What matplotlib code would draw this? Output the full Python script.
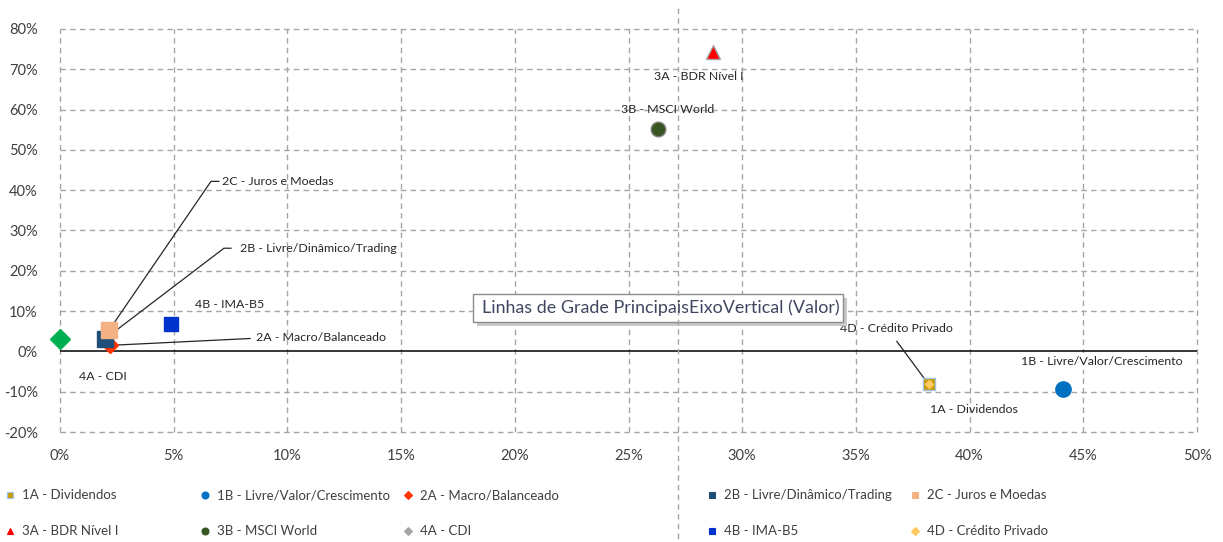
import matplotlib
matplotlib.use("Agg")
import matplotlib.pyplot as plt
from matplotlib.lines import Line2D
from matplotlib.patches import Rectangle
from matplotlib.ticker import FuncFormatter, MultipleLocator

plt.rcParams['font.family'] = ['Lato', 'DejaVu Sans']

# ---- data: risk (x) vs return (y), in percent ----
names = ["1A - Dividendos", "1B - Livre/Valor/Crescimento", "2A - Macro/Balanceado",
         "2B - Livre/Dinâmico/Trading", "2C - Juros e Moedas", "3A - BDR Nível I",
         "3B - MSCI World", "4A - CDI", "4B - IMA-B5", "4D - Crédito Privado"]
risk = [38.2, 44.1, 2.2, 2.0, 2.15, 28.7, 26.3, 0.0, 4.9, 38.2]
ret = [-8.2, -9.4, 1.5, 3.2, 5.2, 74.2, 55.1, 3.0, 6.7, -8.2]

x_ticks = [0, 5, 10, 15, 20, 25, 30, 35, 40, 45, 50]
y_ticks = [-20, -10, 0, 10, 20, 30, 40, 50, 60, 70, 80]

# ---- styles ----
markers = ["s", "o", "D", "s", "s", "^", "o", "D", "s", "D"]
sizes = [9, 11, 8, 11, 11, 10, 10.5, 10.5, 10, 4.5]
faces = ["#C99A06", "#0070C0", "#FF3300", "#1F4E79", "#F4B183",
         "#FF0000", "#375623", "#00B050", "#0033CC", "#FFC95E"]
edges = ["#9DC3E6", "#0070C0", "#FF3300", "#1F4E79", "#F4B183",
         "#A6A6A6", "#7F7F7F", "#00B050", "#0033CC", "#FFC95E"]
legend_faces = list(faces)
legend_faces[7] = "#A6A6A6"

# label placement (data coords), alignment, and optional leader elbow
label_pos = [(40.2, -14.4, "center"), (45.8, -2.5, "center"), (8.62, 3.5, "left"),
             (7.92, 25.6, "left"), (7.12, 42.2, "left"), (28.1, 68.2, "center"),
             (26.7, 60.0, "center"), (0.84, -6.2, "left"), (5.94, 11.7, "left"),
             (36.8, 5.7, "center")]
leaders = {2: [(8.36, 3.2)],
           3: [(7.21, 25.6), (7.52, 25.6)],
           4: [(6.64, 42.2), (6.99, 42.2)],
           9: [(36.8, 2.5)]}

W, H = 1223, 542
fig = plt.figure(figsize=(W / 100, H / 100), dpi=100)
ax = fig.add_axes([60 / W, 1 - 432 / H, (1197 - 60) / W, (432 - 29) / H])

ax.set_xlim(x_ticks[0], x_ticks[-1])
ax.set_ylim(y_ticks[0], y_ticks[-1])
ax.xaxis.set_major_locator(MultipleLocator(5))
ax.yaxis.set_major_locator(MultipleLocator(10))
ax.xaxis.set_major_formatter(FuncFormatter(lambda v, p: f"{v:.0f}%"))
ax.yaxis.set_major_formatter(FuncFormatter(lambda v, p: f"{v:.0f}%"))
ax.tick_params(length=0, labelsize=10.5, colors="#404040", pad=12)
ax.tick_params(axis="y", pad=16)
for s in ax.spines.values():
    s.set_visible(False)

grid_kw = dict(color="#A6A6A6", lw=1.0, ls=(0, (4, 3)), zorder=0, clip_on=False)
for xv in x_ticks:
    ax.axvline(xv, **grid_kw)
for yv in y_ticks:
    if yv != 0:
        ax.axhline(yv, **grid_kw)
ax.axhline(0, color="black", lw=1.1, zorder=1)

# leader lines
for i, pts in leaders.items():
    xs = [risk[i]] + [p[0] for p in pts]
    ys = [ret[i]] + [p[1] for p in pts]
    ax.plot(xs, ys, color="#262626", lw=0.9, zorder=3)

# markers
for i in range(len(names)):
    ax.plot(risk[i], ret[i], marker=markers[i], ms=sizes[i], mfc=faces[i],
            mec=edges[i], mew=1.0, ls="none", zorder=4 if i != 9 else 5,
            clip_on=False)

# point labels
for i, (lx, ly, ha) in enumerate(label_pos):
    bb = None
    if i == 1:
        bb = dict(boxstyle="square,pad=0.25", fc="white", ec="none")
    ax.text(lx, ly, names[i], ha=ha, va="center", fontsize=8.9,
            color="#262626", bbox=bb, zorder=6)

# legend laid out row by row in five columns
col_x = [10, 205, 408, 712, 915]
row_y = [495, 531]
for k in range(len(names)):
    r, c = divmod(k, 5)
    fx, fy = col_x[c] / W, 1 - row_y[r] / H
    lm = markers[k]
    fig.add_artist(Line2D([fx], [fy], marker=lm, ms=5 if lm != "D" else 4.5,
                          mfc=legend_faces[k], mec=edges[k] if k == 0 else legend_faces[k],
                          mew=0.8, ls="none", transform=fig.transFigure))
    fig.text(fx + 12 / W, fy, names[k], ha="left", va="center",
             fontsize=9.5, color="#404040")

# vertical dashed guide crossing the whole figure
fig.add_artist(Line2D([678 / W, 678 / W], [1 - 8 / H, 0], color="#A6A6A6",
                      lw=1.0, ls=(0, (4, 3)), transform=fig.transFigure))

# hover tip box
fig.add_artist(Rectangle((477 / W, 1 - 326 / H), 370 / W, 28 / H,
                         transform=fig.transFigure, fc="#C8C8C8", ec="none"))
fig.add_artist(Rectangle((473 / W, 1 - 322 / H), 370 / W, 28 / H,
                         transform=fig.transFigure, fc="white", ec="#8C8C8C", lw=1))
fig.text(482 / W, 1 - 308 / H, "Linhas de Grade PrincipaisEixoVertical (Valor)",
         ha="left", va="center", fontsize=12.9, color="#3E4660")

fig.savefig("out.png", dpi=100, facecolor="white")
